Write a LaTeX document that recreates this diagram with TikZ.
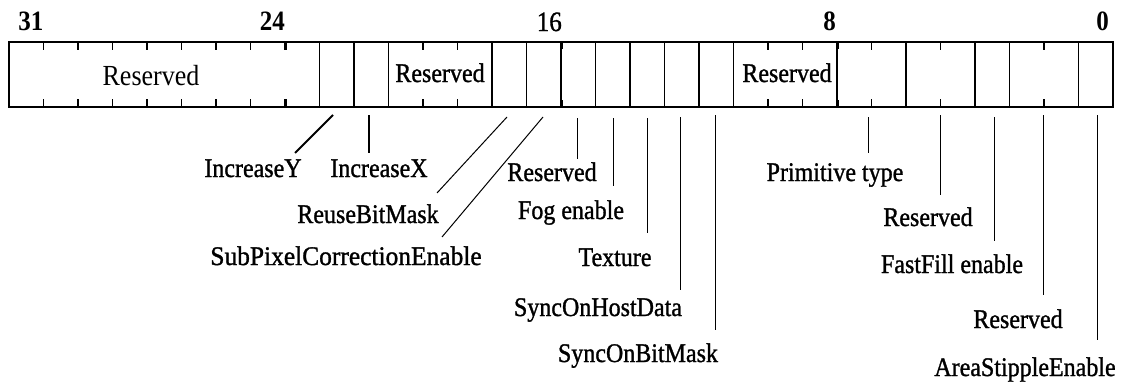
\documentclass[tikz,border=0pt]{standalone}
\usepackage{fontspec}
\usepackage{graphicx}
\setmainfont{Liberation Serif}
\newfontfamily\heavyserif[FakeBold=1.2]{Liberation Serif}
\newcommand\talltext[1]{\scalebox{1}[1.12]{#1}}
\begin{document}
\begin{tikzpicture}[x=1pt,y=-1pt,
  frame/.style={line width=1.5pt},
  divider/.style={line width=1.4pt},
  tickmark/.style={line width=1.8pt},
  bigtick/.style={line width=3pt},
  lbl/.style={inner sep=0pt, anchor=base, font=\fontsize{24}{28}\heavyserif},
  num/.style={inner sep=0pt, anchor=base east, font=\fontsize{25}{28}\selectfont\bfseries},
  lead/.style={line width=1pt},
  leadthick/.style={line width=2pt}]
\useasboundingbox (0,0) rectangle (1125,383);
% register frame
\draw[frame] (9,42) rectangle (1113,107);
% full dividers (boundary after bit b)
\foreach \b in {23,22,21,18,17,15,14,13,12,11,6,4,3,1}
  \draw[divider] ({9+(32-\b)*34.5},42) -- ({9+(32-\b)*34.5},107);
\foreach \b in {16,8}{
  \draw[divider] ({9+(32-\b)*34.5},42) -- ({9+(32-\b)*34.5},107);
  \draw[bigtick] ({9+(32-\b)*34.5},42) -- ++(0,7);
  \draw[bigtick] ({9+(32-\b)*34.5},107) -- ++(0,-7);
}
% short ticks inside multi-bit fields
\foreach \b in {31,30,29,28,27,26,25,20,19,10,9,7,5,2}{
  \draw[tickmark] ({9+(32-\b)*34.5},42) -- ++(0,8);
  \draw[tickmark] ({9+(32-\b)*34.5},107) -- ++(0,-8);
}
\draw[bigtick] ({9+(32-24)*34.5},42) -- ++(0,8);
\draw[bigtick] ({9+(32-24)*34.5},107) -- ++(0,-8);
% bit numbers
\node[num] (n31) at (43.5,30) {\talltext{31}};
\node[num] (n24) at (285,30) {\talltext{24}};
\node[num,font=\fontsize{25}{28}\heavyserif] (n16) at (562,31) {\talltext{16}};
\node[num] (n8) at (836,30) {\talltext{8}};
\node[num] (n0) at (1109,30) {\talltext{0}};
% labels inside the box
\node[lbl,font=\fontsize{26}{28}\selectfont] (r31) at (151,85) {\talltext{Reserved}};
\node[lbl] (r20) at (440,82) {\talltext{Reserved}};
\node[lbl] (r10) at (787,82) {\talltext{Reserved}};
% field leader start points
\coordinate (f22) at (333,115);
\coordinate (f21) at (369,115);
\coordinate (f17) at (507,117);
\coordinate (f16) at (543,117);
\coordinate (f15) at (577,118);
\coordinate (f14) at (613,118);
\coordinate (f13) at (647,118);
\coordinate (f12) at (680,117);
\coordinate (f11) at (715,115);
\coordinate (f7) at (868,117);
\coordinate (f5) at (940,115);
\coordinate (f3) at (994,117);
\coordinate (f2) at (1043,115);
\coordinate (f0) at (1097,115);
% leader end points
\coordinate (e22) at (295,153);
\coordinate (e21) at (369,153);
\coordinate (e17) at (437,193);
\coordinate (e16) at (442,237);
\coordinate (e15) at (577,159);
\coordinate (e14) at (613,186);
\coordinate (e13) at (647,233);
\coordinate (e12) at (680,290);
\coordinate (e11) at (715,330);
\coordinate (e7) at (868,153);
\coordinate (e5) at (940,195);
\coordinate (e3) at (994,241);
\coordinate (e2) at (1043,295);
\coordinate (e0) at (1097,340);
% labels
\node[lbl] (lIncY) at (253,177) {\talltext{IncreaseY}};
\node[lbl] (lIncX) at (379,177) {\talltext{IncreaseX}};
\node[lbl] (lReuse) at (368,223) {\talltext{ReuseBitMask}};
\node[lbl] (lSub) at (346,265) {\scalebox{1.06}[1.12]{SubPixelCorrectionEnable}};
\node[lbl] (lRes15) at (552,181) {\talltext{Reserved}};
\node[lbl] (lFog) at (571,219) {\talltext{Fog enable}};
\node[lbl] (lTex) at (615,266) {\talltext{Texture}};
\node[lbl] (lHost) at (598,316) {\talltext{SyncOnHostData}};
\node[lbl] (lBit) at (638,362) {\talltext{SyncOnBitMask}};
\node[lbl] (lPrim) at (835,181) {\talltext{Primitive type}};
\node[lbl] (lRes5) at (928,226) {\talltext{Reserved}};
\node[lbl] (lFast) at (952,273) {\talltext{FastFill enable}};
\node[lbl] (lRes2) at (1018,328) {\talltext{Reserved}};
\node[lbl] (lArea) at (1025,376) {\talltext{AreaStippleEnable}};
% leaders
\draw[leadthick] (f22) -- (e22);
\draw[leadthick] (f21) -- (e21);
\foreach \k in {17,16,15,14,13,12,11,7,5,3,2,0}
  \draw[lead] (f\k) -- (e\k);
\end{tikzpicture}
\end{document}
